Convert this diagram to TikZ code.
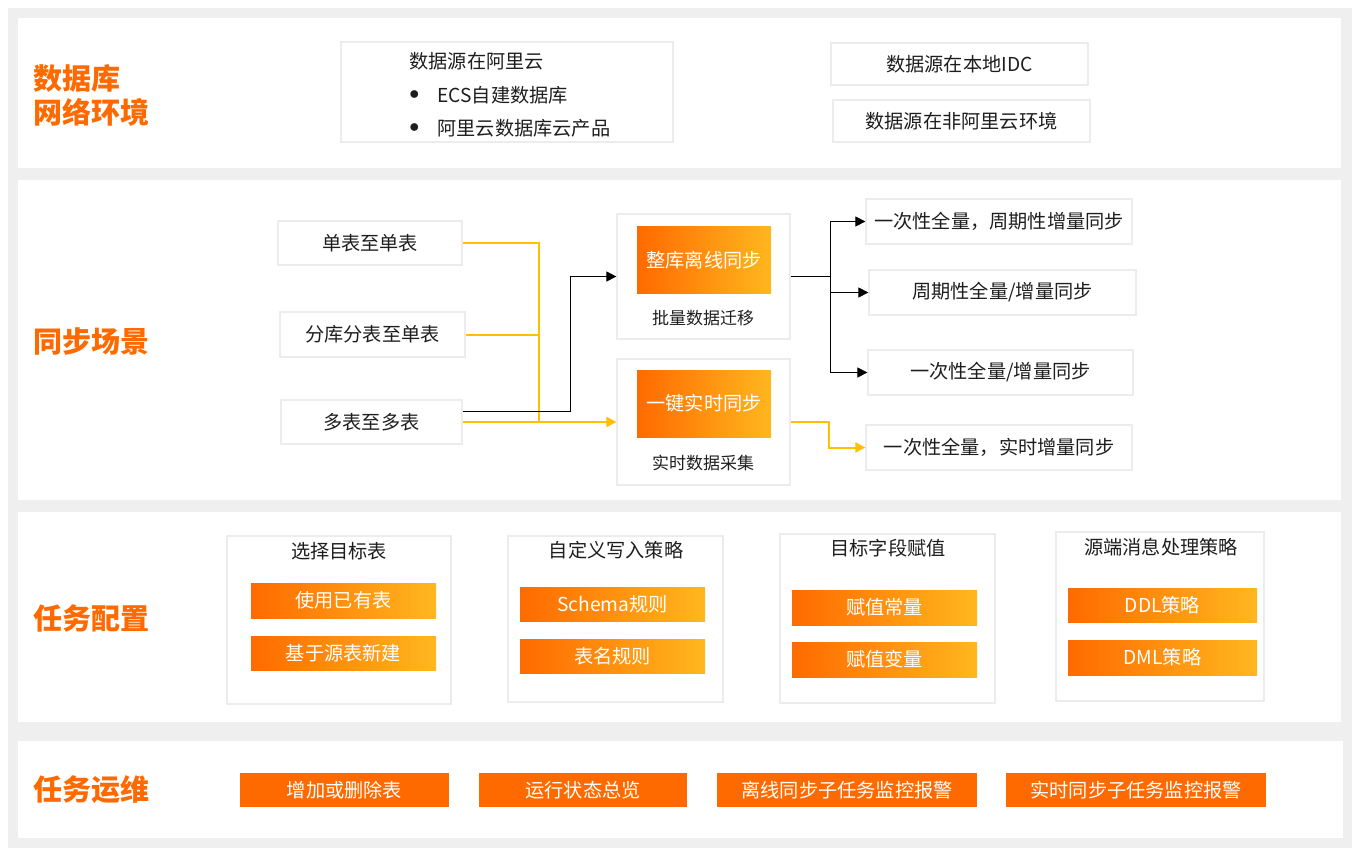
\documentclass[tikz,border=0pt]{standalone}
\usepackage{fontspec}
\setmainfont{Noto Sans CJK SC}
\usetikzlibrary{arrows.meta, calc}
\definecolor{aliorange}{RGB}{255,106,0}
\definecolor{aliamber}{RGB}{255,183,30}
\definecolor{flowyellow}{RGB}{255,192,0}
\definecolor{framegray}{RGB}{239,239,239}
\definecolor{cardline}{RGB}{236,236,236}
\definecolor{textdark}{RGB}{30,30,30}
\tikzset{
  panel/.style={fill=white, draw=none},
  card/.style={
    rectangle, fill=white, draw=cardline, line width=0.6pt, inner sep=0pt, text=textdark,
    font=\fontsize{9.6}{11}\selectfont
  },
  gradbox/.style={rectangle, inner sep=0pt, left color=aliorange, right color=aliamber,
    text=white, font=\fontsize{9.6}{11}\selectfont},
  solidbox/.style={rectangle, inner sep=0pt, fill=aliorange, text=white,
    font=\fontsize{9.6}{11}\selectfont},
  section title/.style={anchor=west, align=left, text=aliorange,
    font=\fontsize{14.5}{17}\selectfont\bfseries},
  plain text/.style={text=textdark, inner sep=0pt, font=\fontsize{9.6}{11}\selectfont},
  caption/.style={text=textdark, font=\fontsize{8.5}{10}\selectfont},
  blackflow/.style={draw=black, thin, -{Triangle[length=5pt,width=5pt]}},
  yellowflow/.style={draw=flowyellow, line width=1pt},
}

\begin{document}
\begin{tikzpicture}[x=0.5pt, y=-0.5pt]
  \useasboundingbox (0,0) rectangle (1362,856);

  % Frame and panels
  \fill[framegray] (8,8) rectangle (1352,848);
  \fill[panel] (18,18) rectangle (1341,168);
  \fill[panel] (18,180) rectangle (1341,500);
  \fill[panel] (18,512) rectangle (1341,722);
  \fill[panel] (18,741) rectangle (1343,838);

  % Section titles
  \node[section title] (t1) at (26,95) {数据库\\网络环境};
  \node[section title] (t2) at (26,341) {同步场景};
  \node[section title] (t3) at (26,618) {任务配置};
  \node[section title] (t4) at (26,790) {任务运维};

  % Network environment
  \node[card, minimum width=166pt, minimum height=50pt] (cloud) at (507,92) {};
  \node[plain text, anchor=west] (cloudhead) at (409,61) {数据源在阿里云};
  \node[plain text, anchor=west] (dot1) at (409,95) {$\bullet$};
  \node[plain text, anchor=west] (ecs) at (437,95) {ECS自建数据库};
  \node[plain text, anchor=west] (dot2) at (409,128) {$\bullet$};
  \node[plain text, anchor=west] (rds) at (437,128) {阿里云数据库云产品};
  \node[card, minimum width=128.5pt, minimum height=21pt] (idc) at (959.5,64) {数据源在本地IDC};
  \node[card, minimum width=128.5pt, minimum height=21pt] (other) at (961.5,121) {数据源在非阿里云环境};

  % Sync scenarios
  \node[card, minimum width=92pt, minimum height=22pt] (single) at (370,243) {单表至单表};
  \node[card, minimum width=92.5pt, minimum height=22.5pt] (shard) at (372.5,334.5) {分库分表至单表};
  \node[card, minimum width=90.5pt, minimum height=22pt] (many) at (371.5,422) {多表至多表};

  \node[card, minimum width=86.5pt, minimum height=62.5pt] (bulk) at (703.5,276.5) {};
  \node[gradbox, minimum width=67pt, minimum height=33.5pt] (bulkname) at (704,260.5) {整库离线同步};
  \node[caption] (bulkcap) at (703,318) {批量数据迁移};
  \node[card, minimum width=86.5pt, minimum height=63pt] (rt) at (703.5,422) {};
  \node[gradbox, minimum width=67pt, minimum height=33.5pt] (rtname) at (704,403.5) {一键实时同步};
  \node[caption] (rtcap) at (703,463) {实时数据采集};

  \node[card, minimum width=133pt, minimum height=22.5pt] (r1) at (999,221.5) {一次性全量，周期性增量同步};
  \node[card, minimum width=133.5pt, minimum height=22.5pt] (r2) at (1002.5,292.5) {周期性全量/增量同步};
  \node[card, minimum width=132.5pt, minimum height=22.5pt] (r3) at (1000.5,372.5) {一次性全量/增量同步};
  \node[card, minimum width=133pt, minimum height=22.5pt] (r4) at (999,447.5) {一次性全量，实时增量同步};

  % Scenario connectors
  \coordinate (yjoin) at ($(rt.west)+(-77,0)$);
  \draw[yellowflow] (single.east) -| (yjoin);
  \draw[yellowflow] (shard.east) -| (yjoin);
  \draw[yellowflow, -{Triangle[length=5pt,width=5pt]}] (many.east) -- (rt.west);
  \draw[blackflow] ([yshift=5.5pt]many.east) -| ($(bulk.west)+(-46,0)$) -- (bulk.west);

  \coordinate (bjoin) at ($(bulk.east)+(40,0)$);
  \draw[black, thin] (bulk.east) -- (bjoin);
  \foreach \r in {r1,r2,r3} {
    \draw[blackflow] (bjoin) |- (\r.west);
  }
  \coordinate (rjoin) at ($(rt.east)+(38,0)$);
  \draw[yellowflow, -{Triangle[length=5pt,width=5pt]}] (rt.east) -- (rjoin) |- (r4.west);

  % Task configuration
  \node[card, minimum width=112pt, minimum height=84pt] (target) at (339,620) {};
  \node[plain text] (targethead) at (339,551) {选择目标表};
  \node[gradbox, minimum width=92.5pt, minimum height=17.5pt] (useold) at (343.5,600.5) {使用已有表};
  \node[gradbox, minimum width=92.5pt, minimum height=17pt] (newtab) at (343.5,653) {基于源表新建};

  \node[card, minimum width=107.5pt, minimum height=83pt] (write) at (615.5,619) {};
  \node[plain text] (writehead) at (616,550) {自定义写入策略};
  \node[gradbox, minimum width=92.5pt, minimum height=17pt] (schema) at (612.5,604) {Schema规则};
  \node[gradbox, minimum width=92.5pt, minimum height=17pt] (tabname) at (612.5,656) {表名规则};

  \node[card, minimum width=107.5pt, minimum height=84.5pt] (field) at (887.5,618.5) {};
  \node[plain text] (fieldhead) at (888,548) {目标字段赋值};
  \node[gradbox, minimum width=92.5pt, minimum height=17.5pt] (const) at (884.5,607.5) {赋值常量};
  \node[gradbox, minimum width=92.5pt, minimum height=17.5pt] (var) at (884.5,659.5) {赋值变量};

  \node[card, minimum width=104pt, minimum height=84.5pt] (msg) at (1160,616.5) {};
  \node[plain text] (msghead) at (1161,547) {源端消息处理策略};
  \node[gradbox, minimum width=94.5pt, minimum height=17pt] (ddl) at (1162.5,605) {DDL策略};
  \node[gradbox, minimum width=94.5pt, minimum height=17.5pt] (dml) at (1162.5,657.5) {DML策略};

  % Task operations
  \node[solidbox, minimum width=104.5pt, minimum height=17pt] (addtab) at (344.5,790) {增加或删除表};
  \node[solidbox, minimum width=104pt, minimum height=17pt] (status) at (583,790) {运行状态总览};
  \node[solidbox, minimum width=130pt, minimum height=17pt] (batchmon) at (847,790) {离线同步子任务监控报警};
  \node[solidbox, minimum width=130pt, minimum height=17pt] (rtmon) at (1136,790) {实时同步子任务监控报警};

\end{tikzpicture}
\end{document}
